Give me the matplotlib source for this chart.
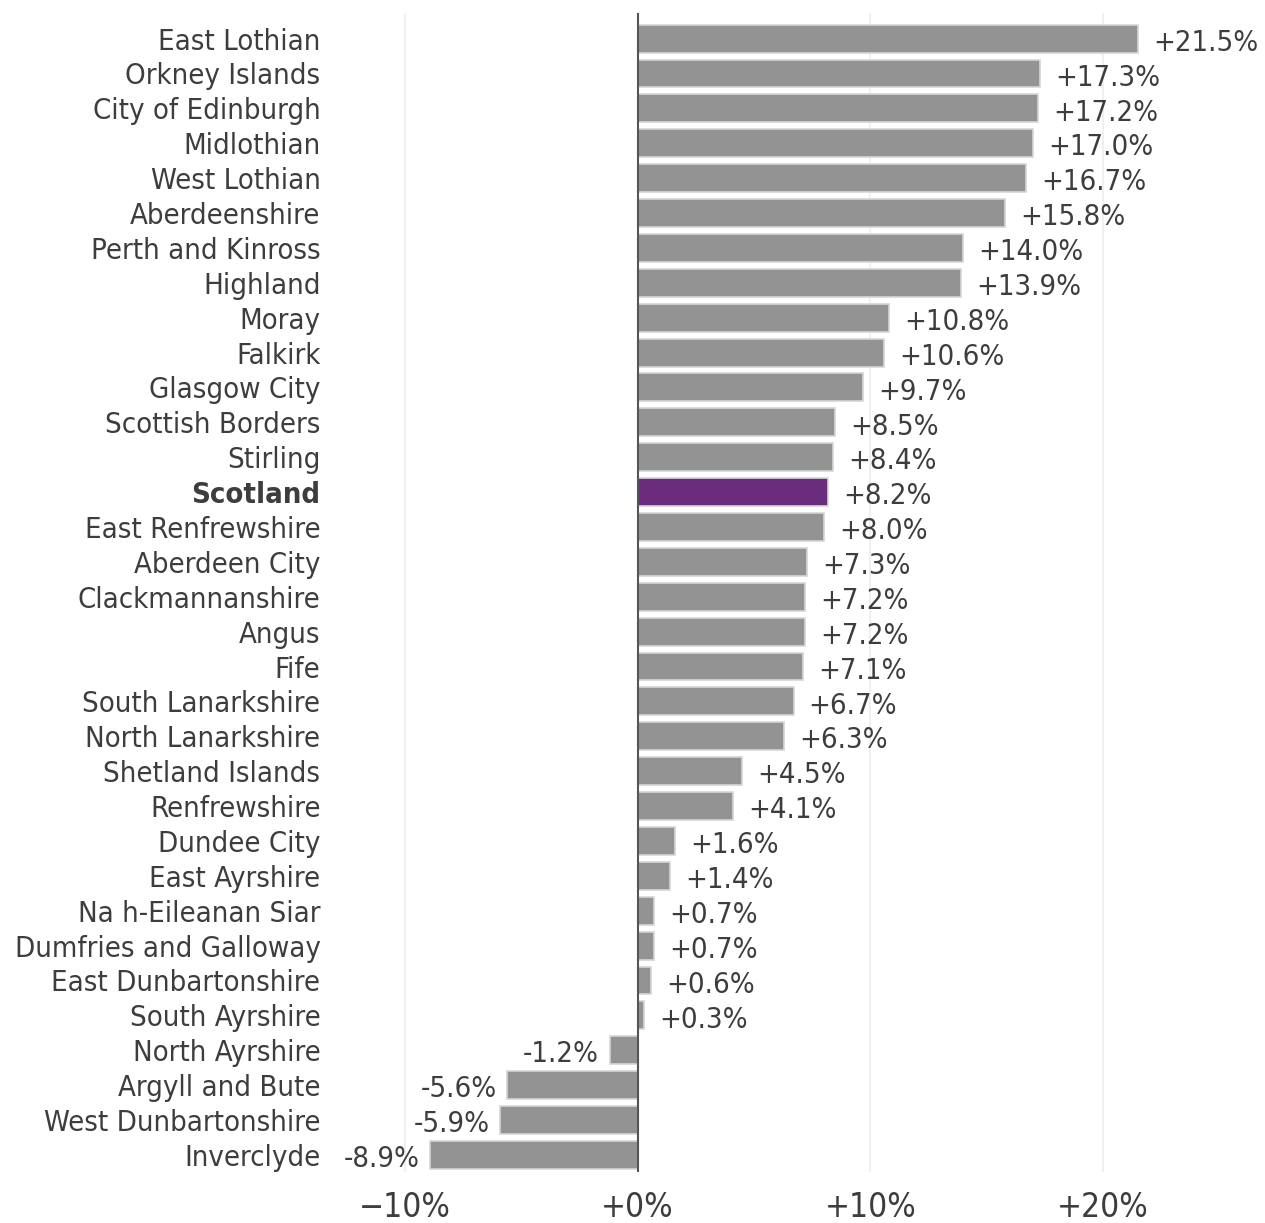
import matplotlib.pyplot as plt

areas = ["East Lothian", "Orkney Islands", "City of Edinburgh", "Midlothian",
         "West Lothian", "Aberdeenshire", "Perth and Kinross", "Highland",
         "Moray", "Falkirk", "Glasgow City", "Scottish Borders", "Stirling",
         "Scotland", "East Renfrewshire", "Aberdeen City", "Clackmannanshire",
         "Angus", "Fife", "South Lanarkshire", "North Lanarkshire",
         "Shetland Islands", "Renfrewshire", "Dundee City", "East Ayrshire",
         "Na h-Eileanan Siar", "Dumfries and Galloway", "East Dunbartonshire",
         "South Ayrshire", "North Ayrshire", "Argyll and Bute",
         "West Dunbartonshire", "Inverclyde"]
change = [21.5, 17.3, 17.2, 17.0, 16.7, 15.8, 14.0, 13.9, 10.8, 10.6, 9.7,
          8.5, 8.4, 8.2, 8.0, 7.3, 7.2, 7.2, 7.1, 6.7, 6.3, 4.5, 4.1, 1.6, 1.4,
          0.7, 0.7, 0.6, 0.3, -1.2, -5.6, -5.9, -8.9]
xticks = [-10, 0, 10, 20]
xtick_labels = ["\u221210%", "+0%", "+10%", "+20%"]

font = dict(family="DejaVu Sans", stretch="condensed")
txt = "#3d3d3d"

fig = plt.figure(figsize=(12.65, 12.23), dpi=100)
ax = fig.add_axes([0.261, 0.0417, 0.739, 0.948])

y = list(range(len(areas)))
colors = ["#6b2c7e" if a == "Scotland" else "#939393" for a in areas]
ax.barh(y, change, height=0.8, color=colors, edgecolor="#d6d6d6",
        linewidth=1.2, zorder=2)

# value labels next to the bar ends
for yi, v in zip(y, change):
    s = f"+{v:.1f}%" if v >= 0 else f"{v:.1f}%"
    if v >= 0:
        ax.text(v + 0.65, yi + 0.12, s, ha="left", va="center", fontsize=21,
                color=txt, **font)
    else:
        ax.text(v - 0.45, yi + 0.12, s, ha="right", va="center", fontsize=21,
                color=txt, **font)

ax.set_xlim(-13.2, 26.95)
ax.set_ylim(32.49, -0.745)

for gx in [-10, 10, 20]:
    ax.axvline(gx, color="#eeeeee", linewidth=1.2, zorder=0)
ax.axvline(0, color="#555555", linewidth=1.5, zorder=3)

ax.set_yticks(y)
ax.set_yticklabels(areas, fontsize=21, color=txt, **font)
for lab in ax.get_yticklabels():
    if lab.get_text() == "Scotland":
        lab.set_fontweight("bold")
ax.tick_params(axis="y", length=0, pad=7)

ax.set_xticks(xticks)
ax.set_xticklabels(xtick_labels, fontsize=24, color=txt, **font)
ax.tick_params(axis="x", length=0, pad=14)

for sp in ax.spines.values():
    sp.set_visible(False)

fig.savefig("out.png", dpi=100)
